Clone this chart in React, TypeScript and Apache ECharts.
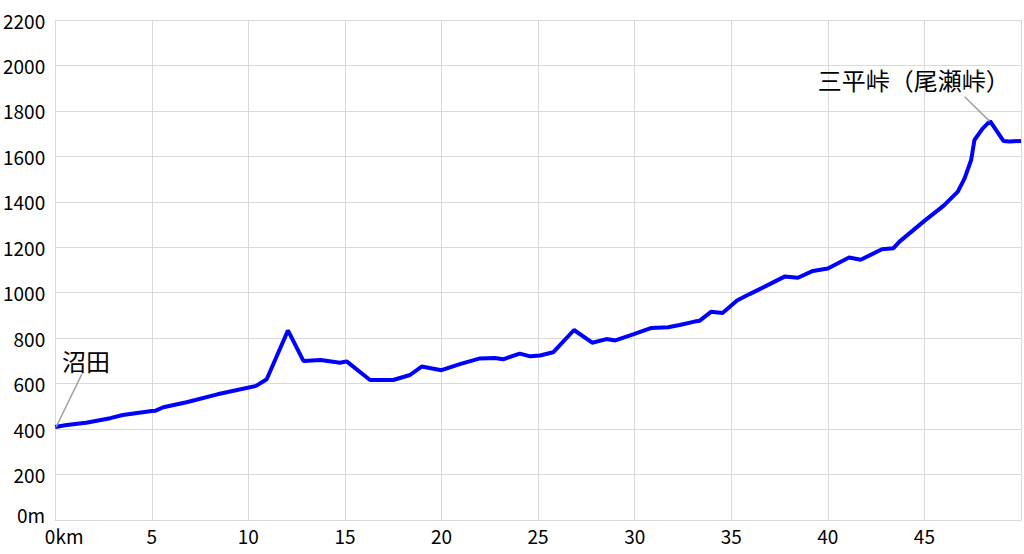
import React, { useEffect, useRef } from "react";
import * as echarts from "echarts";

const distanceKm: number[] = [
  0, 0.6, 1.6, 2.85, 3.5, 5.0, 5.2, 5.6, 6.8, 8.4, 10.4, 10.95, 12.05, 12.85, 13.75,
  14.74, 15.09, 16.3, 17.5, 18.37, 18.97, 20.0, 20.95, 21.99, 22.76, 23.19, 24.05,
  24.6, 25.1, 25.78, 26.86, 27.8, 28.54, 29.0, 29.92, 30.87, 31.73, 32.33, 33.1,
  33.37, 33.95, 34.55, 35.3, 35.95, 36.99, 37.76, 38.45, 39.23, 40.0, 41.1, 41.7,
  42.8, 43.4, 43.71, 45.0, 46.0, 46.73, 47.08, 47.42, 47.59, 48.02, 48.4, 49.09,
  49.4, 50.0,
];
const elevationM: number[] = [
  409, 418, 428, 448, 462, 480, 481, 496, 518, 553, 590, 619, 834, 700, 704,
  692, 698, 616, 616, 638, 675, 659, 686, 711, 713, 707, 732,
  720, 724, 738, 836, 780, 796, 790, 817, 845, 848, 858, 873,
  877, 916, 911, 966, 994, 1038, 1071, 1066, 1096, 1107, 1155, 1145,
  1191, 1196, 1225, 1316, 1383, 1445, 1503, 1584, 1672, 1723, 1755, 1668,
  1665, 1668,
];

const annotationNames: string[] = ["沼田", "三平峠（尾瀬峠）"];
const annotationTextAt: [number, number][] = [[1.6, 704], [44.45, 1940]];
const leaderFrom: [number, number][] = [[0.05, 409], [48.37, 1755]];
const leaderTo: [number, number][] = [[1.38, 642], [47.08, 1862]];

export default function App() {
  const ref = useRef<HTMLDivElement>(null);
  useEffect(() => {
    if (!ref.current) return;
    const chart = echarts.init(ref.current, null, { renderer: "svg" });
    const data = distanceKm.map((d, i) => [d, elevationM[i]]);
    const font = "'Noto Sans CJK JP', 'Liberation Sans', sans-serif";
    chart.setOption({
      animation: false,
      backgroundColor: "#ffffff",
      grid: { left: 55, right: 3, top: 20, bottom: 34 },
      xAxis: {
        type: "value",
        min: 0,
        max: 50,
        interval: 5,
        axisLine: { show: true, lineStyle: { color: "#d9d9d9", width: 1 } },
        axisTick: { show: false },
        splitLine: { show: true, lineStyle: { color: "#d9d9d9", width: 1 } },
        axisLabel: {
          color: "#000",
          fontSize: 19,
          fontFamily: font,
          margin: 6,
          formatter: (v: number) => (v === 0 ? "{first|0km}" : v === 50 ? "" : String(v)),
          rich: {
            first: { fontSize: 19, fontFamily: font, color: "#000", padding: [0, 0, 0, 18] },
          },
        },
      },
      yAxis: {
        type: "value",
        min: 0,
        max: 2200,
        interval: 200,
        axisLine: { show: true, lineStyle: { color: "#d9d9d9", width: 1 } },
        axisTick: { show: false },
        splitLine: { show: true, lineStyle: { color: "#d9d9d9", width: 1 } },
        axisLabel: {
          color: "#000",
          fontSize: 19,
          fontFamily: font,
          margin: 10,
          formatter: (v: number) => (v === 0 ? "{zero|0m}" : String(v)),
          rich: {
            zero: { fontSize: 19, fontFamily: font, color: "#000", padding: [0, 0, 12, 0] },
          },
        },
      },
      series: [
        {
          type: "line",
          data,
          showSymbol: false,
          symbol: "none",
          lineStyle: { color: "#0000ff", width: 4 },
          itemStyle: { color: "#0000ff" },
          markLine: {
            silent: true,
            symbol: ["none", "none"],
            label: { show: false },
            lineStyle: { color: "#a0a0a0", width: 1.5, type: "solid" },
            data: leaderFrom.map((p, i) => [{ coord: p }, { coord: leaderTo[i] }]),
          },
          markPoint: {
            silent: true,
            symbol: "circle",
            symbolSize: 0,
            label: {
              show: true,
              position: "inside",
              color: "#000",
              fontSize: 24,
              fontFamily: font,
              formatter: (p: any) => p.name,
            },
            data: annotationNames.map((n, i) => ({ name: n, coord: annotationTextAt[i] })),
          },
        },
      ],
    });
    return () => chart.dispose();
  }, []);
  return (
    <div
      ref={ref}
      style={{ position: "fixed", left: 0, top: 0, width: 1024, height: 554 }}
    />
  );
}
